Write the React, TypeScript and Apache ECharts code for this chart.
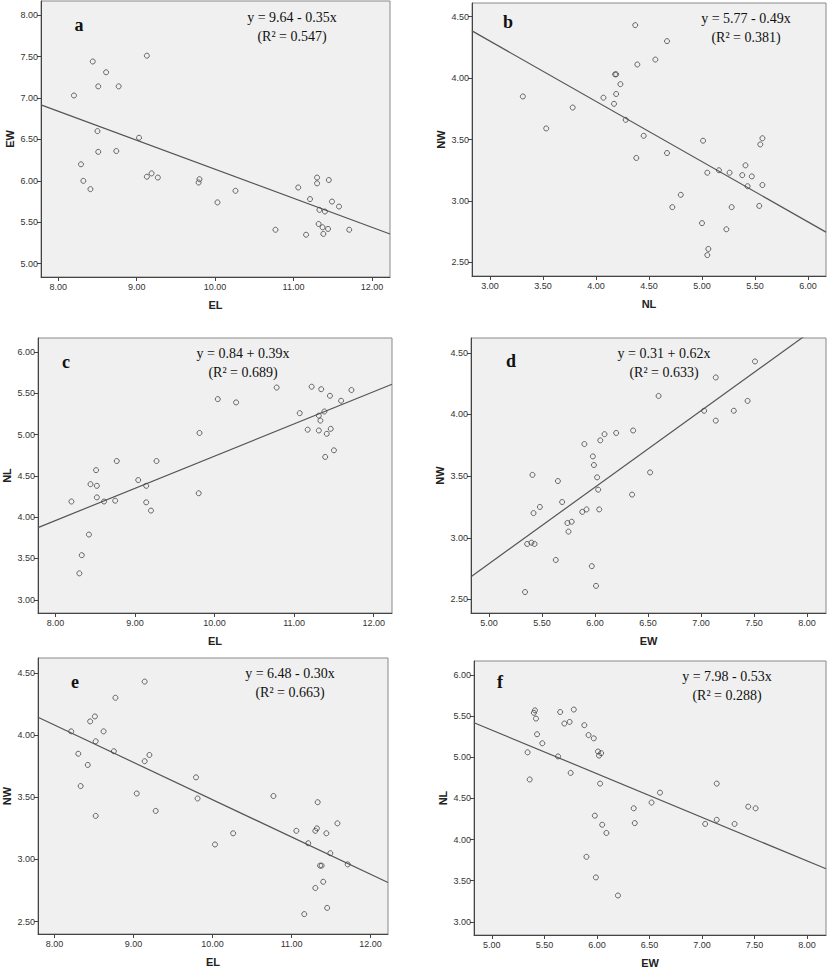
import React, { useEffect, useRef } from "react";
import * as echarts from "echarts";

// Panel a: EL vs EW
const aEL = [8.20, 8.44, 8.51, 8.61, 8.77, 9.13, 8.50, 9.03, 8.51, 8.74, 8.29, 8.32, 8.41, 9.13, 9.19, 9.27, 9.80, 9.79, 10.03, 10.26, 10.77, 11.06, 11.21, 11.30, 11.30, 11.45, 11.33, 11.40, 11.49, 11.58, 11.32, 11.37, 11.38, 11.44, 11.71, 11.16];
const aEW = [7.03, 7.44, 7.14, 7.31, 7.14, 7.51, 6.60, 6.52, 6.35, 6.36, 6.20, 6.00, 5.90, 6.05, 6.09, 6.04, 6.02, 5.98, 5.74, 5.88, 5.41, 5.92, 5.78, 6.04, 5.97, 6.01, 5.65, 5.63, 5.75, 5.69, 5.48, 5.44, 5.36, 5.42, 5.41, 5.35];
// Panel b: NL vs NW
const bNL = [3.31, 3.53, 3.78, 4.07, 4.17, 4.18, 4.19, 4.19, 4.23, 4.28, 4.37, 4.39, 4.45, 4.38, 4.56, 4.67, 4.67, 4.72, 4.80, 5.01, 5.00, 5.05, 5.05, 5.06, 5.16, 5.23, 5.26, 5.28, 5.38, 5.41, 5.43, 5.47, 5.54, 5.55, 5.57, 5.57];
const bNW = [3.85, 3.59, 3.76, 3.84, 3.79, 4.03, 4.03, 3.87, 3.95, 3.66, 4.43, 4.11, 3.53, 3.35, 4.15, 4.30, 3.39, 2.95, 3.05, 3.49, 2.82, 3.23, 2.56, 2.61, 3.25, 2.77, 3.23, 2.95, 3.21, 3.29, 3.12, 3.20, 2.96, 3.46, 3.51, 3.13];
// Panel c: EL vs NL
const cEL = [8.20, 8.30, 8.33, 8.42, 8.44, 8.51, 8.52, 8.52, 8.61, 8.75, 8.77, 9.04, 9.14, 9.14, 9.20, 9.27, 9.80, 9.81, 10.04, 10.27, 10.78, 11.07, 11.17, 11.22, 11.31, 11.31, 11.33, 11.34, 11.38, 11.39, 11.41, 11.45, 11.46, 11.50, 11.59, 11.72];
const cNL = [4.19, 3.32, 3.54, 3.79, 4.40, 4.57, 4.38, 4.24, 4.19, 4.20, 4.68, 4.45, 4.38, 4.18, 4.08, 4.68, 4.29, 5.02, 5.43, 5.39, 5.57, 5.26, 5.06, 5.58, 5.23, 5.05, 5.17, 5.55, 5.28, 4.73, 5.01, 5.47, 5.07, 4.81, 5.41, 5.54];
// Panel d: EW vs NW
const dEW = [5.34, 5.36, 5.40, 5.43, 5.41, 5.42, 5.48, 5.63, 5.65, 5.69, 5.74, 5.78, 5.75, 5.88, 5.92, 5.90, 5.97, 5.98, 5.99, 6.01, 6.02, 6.03, 6.04, 6.05, 6.09, 6.20, 6.35, 6.36, 6.52, 6.60, 7.03, 7.14, 7.14, 7.31, 7.44, 7.51];
const dNW = [2.56, 2.95, 2.96, 2.95, 3.51, 3.20, 3.25, 2.82, 3.46, 3.29, 3.12, 3.13, 3.05, 3.21, 3.23, 3.76, 2.77, 3.66, 3.59, 2.61, 3.49, 3.39, 3.23, 3.79, 3.84, 3.85, 3.35, 3.87, 3.53, 4.15, 4.03, 4.30, 3.95, 4.03, 4.11, 4.43];
// Panel e: EL vs NW
const eEL = [8.21, 8.30, 8.33, 8.42, 8.45, 8.51, 8.52, 8.52, 8.62, 8.75, 8.77, 9.04, 9.14, 9.14, 9.20, 9.28, 9.79, 9.81, 10.03, 10.26, 10.77, 11.06, 11.16, 11.21, 11.30, 11.30, 11.32, 11.33, 11.36, 11.38, 11.40, 11.44, 11.45, 11.49, 11.58, 11.71];
const eNW = [4.03, 3.85, 3.59, 3.76, 4.11, 4.15, 3.95, 3.35, 4.03, 3.87, 4.30, 3.53, 3.79, 4.43, 3.84, 3.39, 3.66, 3.49, 3.12, 3.21, 3.51, 3.23, 2.56, 3.13, 3.23, 2.77, 3.25, 3.46, 2.95, 2.95, 2.82, 3.21, 2.61, 3.05, 3.29, 2.96];
// Panel f: EW vs NL
const fEW = [5.34, 5.36, 5.40, 5.41, 5.42, 5.43, 5.48, 5.63, 5.65, 5.69, 5.74, 5.75, 5.78, 5.88, 5.92, 5.90, 5.97, 5.98, 5.99, 6.01, 6.02, 6.04, 6.03, 6.05, 6.09, 6.20, 6.35, 6.36, 6.52, 6.60, 7.03, 7.14, 7.14, 7.31, 7.44, 7.51];
const fNL = [5.06, 4.73, 5.54, 5.57, 5.47, 5.28, 5.17, 5.01, 5.55, 5.41, 5.43, 4.81, 5.58, 5.39, 5.27, 3.79, 5.23, 4.29, 3.54, 5.07, 5.02, 5.05, 4.68, 4.18, 4.08, 3.32, 4.38, 4.20, 4.45, 4.57, 4.19, 4.68, 4.24, 4.19, 4.40, 4.38];

// Fitted lines as drawn (intercept, slope)
const lineIntercepts = [9.64, 5.77, 0.84, -0.31, 6.48, 7.98];
const lineSlopes = [-0.35, -0.49, 0.39, 0.62, -0.30, -0.53];

const panelLetters = ["a", "b", "c", "d", "e", "f"];
const equations = ["y = 9.64 - 0.35x", "y = 5.77 - 0.49x", "y = 0.84 + 0.39x", "y = 0.31 + 0.62x", "y = 6.48 - 0.30x", "y = 7.98 - 0.53x"];
const rSquared = ["(R² = 0.547)", "(R² = 0.381)", "(R² = 0.689)", "(R² = 0.633)", "(R² = 0.663)", "(R² = 0.288)"];
const xNames = ["EL", "NL", "EL", "EW", "EL", "EW"];
const yNames = ["EW", "NW", "NL", "NW", "NW", "NL"];
const ticksEL = [8, 9, 10, 11, 12];
const ticksNL = [3, 3.5, 4, 4.5, 5, 5.5, 6];
const ticksEW = [5, 5.5, 6, 6.5, 7, 7.5, 8];
const ticksW = [2.5, 3, 3.5, 4, 4.5];
const ticksY36 = [3, 3.5, 4, 4.5, 5, 5.5, 6];
const ticksY58 = [5, 5.5, 6, 6.5, 7, 7.5, 8];

const xs = [aEL, bNL, cEL, dEW, eEL, fEW];
const ys = [aEW, bNW, cNL, dNW, eNW, fNL];
const xTicks = [ticksEL, ticksNL, ticksEL, ticksEW, ticksEL, ticksEW];
const yTicks = [ticksY58, ticksW, ticksY36, ticksW, ticksW, ticksY36];

const layout = [
  { grid: { left: 41, top: 1, width: 349, height: 276 }, x: [7.78, 12.23], y: [4.84, 8.17], eq: [292, 17], letter: [79, 25] },
  { grid: { left: 472, top: 3, width: 354, height: 273 }, x: [2.83, 6.17], y: [2.39, 4.61], eq: [746, 18], letter: [508, 22] },
  { grid: { left: 38, top: 338, width: 354, height: 275 }, x: [7.78, 12.23], y: [2.84, 6.17], eq: [243, 353], letter: [66, 362] },
  { grid: { left: 471, top: 338, width: 355, height: 275 }, x: [4.83, 8.18], y: [2.39, 4.62], eq: [664, 353], letter: [511, 361] },
  { grid: { left: 38, top: 658, width: 350, height: 276 }, x: [7.79, 12.22], y: [2.40, 4.62], eq: [290, 673], letter: [75, 682] },
  { grid: { left: 474, top: 661, width: 352, height: 276 }, x: [4.83, 8.18], y: [2.84, 6.17], eq: [727, 676], letter: [500, 682] },
];

export default function App() {
  const ref = useRef<HTMLDivElement>(null);
  useEffect(() => {
    if (!ref.current) return;
    const chart = echarts.init(ref.current, null, { renderer: "svg" });
    const axisCol = "#444";
    const grids: any[] = [];
    const xAxes: any[] = [];
    const yAxes: any[] = [];
    const series: any[] = [];
    const graphics: any[] = [];
    layout.forEach((p, i) => {
      grids.push({
        ...p.grid,
        show: true,
        backgroundColor: "#f0f0f0",
        borderColor: "#8a8a8a",
        borderWidth: 1,
        containLabel: false,
      });
      const fmt = (v: number) => v.toFixed(2);
      xAxes.push({
        type: "value",
        gridIndex: i,
        min: p.x[0],
        max: p.x[1],
        splitLine: { show: false },
        axisLine: { show: true, onZero: false, lineStyle: { color: axisCol, width: 1 } },
        axisTick: { show: true, length: 4, lineStyle: { color: axisCol }, customValues: xTicks[i] },
        axisLabel: { customValues: xTicks[i], formatter: fmt, fontSize: 9, color: "#333", fontFamily: "Liberation Sans", margin: 5 },
        name: xNames[i],
        nameLocation: "middle",
        nameGap: 22,
        nameTextStyle: { fontSize: 11, fontWeight: "bold", color: "#222", fontFamily: "Liberation Sans" },
      });
      yAxes.push({
        type: "value",
        gridIndex: i,
        min: p.y[0],
        max: p.y[1],
        splitLine: { show: false },
        axisLine: { show: true, onZero: false, lineStyle: { color: axisCol, width: 1 } },
        axisTick: { show: true, length: 4, lineStyle: { color: axisCol }, customValues: yTicks[i] },
        axisLabel: { customValues: yTicks[i], formatter: fmt, fontSize: 9, color: "#333", fontFamily: "Liberation Sans", margin: 3 },
        name: yNames[i],
        nameLocation: "middle",
        nameGap: 26,
        nameTextStyle: { fontSize: 11, fontWeight: "bold", color: "#222", fontFamily: "Liberation Sans" },
      });
      series.push({
        type: "scatter",
        xAxisIndex: i,
        yAxisIndex: i,
        data: xs[i].map((x, k) => [x, ys[i][k]]),
        symbol: "circle",
        symbolSize: 5,
        itemStyle: { color: "rgba(0,0,0,0)", borderColor: "#444", borderWidth: 1 },
        z: 3,
      });
      const b = lineIntercepts[i];
      const m = lineSlopes[i];
      series.push({
        type: "line",
        xAxisIndex: i,
        yAxisIndex: i,
        data: [
          [p.x[0], b + m * p.x[0]],
          [p.x[1], b + m * p.x[1]],
        ],
        symbol: "none",
        clip: true,
        lineStyle: { color: "#555", width: 1.2 },
        z: 2,
      });
      graphics.push({
        type: "text",
        x: p.eq[0],
        y: p.eq[1],
        style: { text: equations[i], font: "14px 'Liberation Serif'", fill: "#111", align: "center", verticalAlign: "middle" },
        z: 10,
      });
      graphics.push({
        type: "text",
        x: p.eq[0],
        y: p.eq[1] + 19,
        style: { text: rSquared[i], font: "14px 'Liberation Serif'", fill: "#111", align: "center", verticalAlign: "middle" },
        z: 10,
      });
      graphics.push({
        type: "text",
        x: p.letter[0],
        y: p.letter[1],
        style: { text: panelLetters[i], font: "bold 18px 'Liberation Serif'", fill: "#111", align: "center", verticalAlign: "middle" },
        z: 10,
      });
    });
    chart.setOption({
      animation: false,
      backgroundColor: "#ffffff",
      grid: grids,
      xAxis: xAxes,
      yAxis: yAxes,
      series,
      graphic: graphics,
    });
    return () => chart.dispose();
  }, []);
  return <div ref={ref} style={{ position: "fixed", left: 0, top: 0, width: 827, height: 969 }} />;
}
